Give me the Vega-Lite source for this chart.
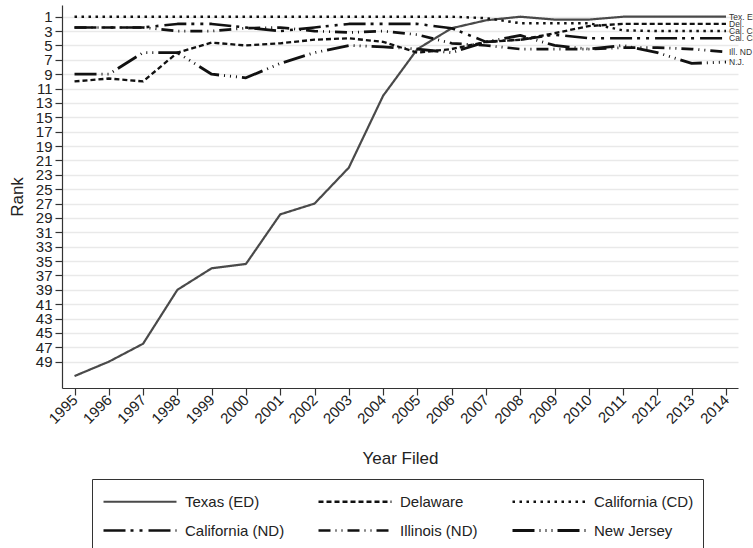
{
  "$schema": "https://vega.github.io/schema/vega-lite/v6.json",
  "width": 676,
  "height": 383,
  "autosize": {"type": "none"},
  "padding": {"left": 62, "top": 5, "right": 15, "bottom": 160},
  "background": "white",
  "config": {"view": {"stroke": null}, "font": "Liberation Sans"},
  "datasets": {
    "ranks": [
      {"series": "Texas (ED)", "year": 1995, "rank": 51},
      {"series": "Texas (ED)", "year": 1996, "rank": 49},
      {"series": "Texas (ED)", "year": 1997, "rank": 46.5},
      {"series": "Texas (ED)", "year": 1998, "rank": 39},
      {"series": "Texas (ED)", "year": 1999, "rank": 36},
      {"series": "Texas (ED)", "year": 2000, "rank": 35.4},
      {"series": "Texas (ED)", "year": 2001, "rank": 28.5},
      {"series": "Texas (ED)", "year": 2002, "rank": 27},
      {"series": "Texas (ED)", "year": 2003, "rank": 22},
      {"series": "Texas (ED)", "year": 2004, "rank": 12},
      {"series": "Texas (ED)", "year": 2005, "rank": 5.5},
      {"series": "Texas (ED)", "year": 2006, "rank": 2.6},
      {"series": "Texas (ED)", "year": 2007, "rank": 1.5},
      {"series": "Texas (ED)", "year": 2008, "rank": 1},
      {"series": "Texas (ED)", "year": 2009, "rank": 1.4},
      {"series": "Texas (ED)", "year": 2010, "rank": 1.4},
      {"series": "Texas (ED)", "year": 2011, "rank": 1},
      {"series": "Texas (ED)", "year": 2012, "rank": 1},
      {"series": "Texas (ED)", "year": 2013, "rank": 1},
      {"series": "Texas (ED)", "year": 2014, "rank": 1},
      {"series": "Delaware", "year": 1995, "rank": 10},
      {"series": "Delaware", "year": 1996, "rank": 9.6},
      {"series": "Delaware", "year": 1997, "rank": 10},
      {"series": "Delaware", "year": 1998, "rank": 6},
      {"series": "Delaware", "year": 1999, "rank": 4.6},
      {"series": "Delaware", "year": 2000, "rank": 5},
      {"series": "Delaware", "year": 2001, "rank": 4.7},
      {"series": "Delaware", "year": 2002, "rank": 4.2},
      {"series": "Delaware", "year": 2003, "rank": 4},
      {"series": "Delaware", "year": 2004, "rank": 4.5},
      {"series": "Delaware", "year": 2005, "rank": 6},
      {"series": "Delaware", "year": 2006, "rank": 5.5},
      {"series": "Delaware", "year": 2007, "rank": 4.5},
      {"series": "Delaware", "year": 2008, "rank": 4.2},
      {"series": "Delaware", "year": 2009, "rank": 3.3},
      {"series": "Delaware", "year": 2010, "rank": 2.3},
      {"series": "Delaware", "year": 2011, "rank": 2},
      {"series": "Delaware", "year": 2012, "rank": 2},
      {"series": "Delaware", "year": 2013, "rank": 2},
      {"series": "Delaware", "year": 2014, "rank": 2},
      {"series": "California (CD)", "year": 1995, "rank": 1},
      {"series": "California (CD)", "year": 1996, "rank": 1},
      {"series": "California (CD)", "year": 1997, "rank": 1},
      {"series": "California (CD)", "year": 1998, "rank": 1},
      {"series": "California (CD)", "year": 1999, "rank": 1},
      {"series": "California (CD)", "year": 2000, "rank": 1},
      {"series": "California (CD)", "year": 2001, "rank": 1},
      {"series": "California (CD)", "year": 2002, "rank": 1},
      {"series": "California (CD)", "year": 2003, "rank": 1},
      {"series": "California (CD)", "year": 2004, "rank": 1},
      {"series": "California (CD)", "year": 2005, "rank": 1},
      {"series": "California (CD)", "year": 2006, "rank": 1},
      {"series": "California (CD)", "year": 2007, "rank": 1.2},
      {"series": "California (CD)", "year": 2008, "rank": 1.9},
      {"series": "California (CD)", "year": 2009, "rank": 1.9},
      {"series": "California (CD)", "year": 2010, "rank": 1.9},
      {"series": "California (CD)", "year": 2011, "rank": 2.9},
      {"series": "California (CD)", "year": 2012, "rank": 3},
      {"series": "California (CD)", "year": 2013, "rank": 3},
      {"series": "California (CD)", "year": 2014, "rank": 3},
      {"series": "California (ND)", "year": 1995, "rank": 2.5},
      {"series": "California (ND)", "year": 1996, "rank": 2.5},
      {"series": "California (ND)", "year": 1997, "rank": 2.5},
      {"series": "California (ND)", "year": 1998, "rank": 2},
      {"series": "California (ND)", "year": 1999, "rank": 2},
      {"series": "California (ND)", "year": 2000, "rank": 2.5},
      {"series": "California (ND)", "year": 2001, "rank": 3},
      {"series": "California (ND)", "year": 2002, "rank": 2.5},
      {"series": "California (ND)", "year": 2003, "rank": 2},
      {"series": "California (ND)", "year": 2004, "rank": 2},
      {"series": "California (ND)", "year": 2005, "rank": 2},
      {"series": "California (ND)", "year": 2006, "rank": 2.6},
      {"series": "California (ND)", "year": 2007, "rank": 4.5},
      {"series": "California (ND)", "year": 2008, "rank": 4.2},
      {"series": "California (ND)", "year": 2009, "rank": 3.5},
      {"series": "California (ND)", "year": 2010, "rank": 4},
      {"series": "California (ND)", "year": 2011, "rank": 4},
      {"series": "California (ND)", "year": 2012, "rank": 4},
      {"series": "California (ND)", "year": 2013, "rank": 4},
      {"series": "California (ND)", "year": 2014, "rank": 4},
      {"series": "Illinois (ND)", "year": 1995, "rank": 2.5},
      {"series": "Illinois (ND)", "year": 1996, "rank": 2.5},
      {"series": "Illinois (ND)", "year": 1997, "rank": 2.5},
      {"series": "Illinois (ND)", "year": 1998, "rank": 3},
      {"series": "Illinois (ND)", "year": 1999, "rank": 3},
      {"series": "Illinois (ND)", "year": 2000, "rank": 2.6},
      {"series": "Illinois (ND)", "year": 2001, "rank": 2.5},
      {"series": "Illinois (ND)", "year": 2002, "rank": 3},
      {"series": "Illinois (ND)", "year": 2003, "rank": 3.2},
      {"series": "Illinois (ND)", "year": 2004, "rank": 3},
      {"series": "Illinois (ND)", "year": 2005, "rank": 3.5},
      {"series": "Illinois (ND)", "year": 2006, "rank": 4.7},
      {"series": "Illinois (ND)", "year": 2007, "rank": 5},
      {"series": "Illinois (ND)", "year": 2008, "rank": 5.5},
      {"series": "Illinois (ND)", "year": 2009, "rank": 5.5},
      {"series": "Illinois (ND)", "year": 2010, "rank": 5.5},
      {"series": "Illinois (ND)", "year": 2011, "rank": 5.3},
      {"series": "Illinois (ND)", "year": 2012, "rank": 5.3},
      {"series": "Illinois (ND)", "year": 2013, "rank": 5.5},
      {"series": "Illinois (ND)", "year": 2014, "rank": 5.9},
      {"series": "New Jersey", "year": 1995, "rank": 9},
      {"series": "New Jersey", "year": 1996, "rank": 9},
      {"series": "New Jersey", "year": 1997, "rank": 6},
      {"series": "New Jersey", "year": 1998, "rank": 6},
      {"series": "New Jersey", "year": 1999, "rank": 9},
      {"series": "New Jersey", "year": 2000, "rank": 9.5},
      {"series": "New Jersey", "year": 2001, "rank": 7.5},
      {"series": "New Jersey", "year": 2002, "rank": 6},
      {"series": "New Jersey", "year": 2003, "rank": 5},
      {"series": "New Jersey", "year": 2004, "rank": 5.2},
      {"series": "New Jersey", "year": 2005, "rank": 5.5},
      {"series": "New Jersey", "year": 2006, "rank": 6},
      {"series": "New Jersey", "year": 2007, "rank": 4.5},
      {"series": "New Jersey", "year": 2008, "rank": 3.6},
      {"series": "New Jersey", "year": 2009, "rank": 5},
      {"series": "New Jersey", "year": 2010, "rank": 5.5},
      {"series": "New Jersey", "year": 2011, "rank": 5},
      {"series": "New Jersey", "year": 2012, "rank": 6},
      {"series": "New Jersey", "year": 2013, "rank": 7.5},
      {"series": "New Jersey", "year": 2014, "rank": 7.3}
    ],
    "labels": [
      {"series": "Texas (ED)", "label": "Tex. ED"},
      {"series": "Delaware", "label": "Del."},
      {"series": "California (CD)", "label": "Cal. CD"},
      {"series": "California (ND)", "label": "Cal. CD"},
      {"series": "Illinois (ND)", "label": "Ill. ND"},
      {"series": "New Jersey", "label": "N.J."}
    ]
  },
  "layer": [
    {
      "data": {"name": "ranks"},
      "mark": {"type": "line", "strokeCap": "butt", "strokeJoin": "round"},
      "encoding": {
        "x": {
          "field": "year", "type": "quantitative",
          "scale": {"domain": [1994.635, 2014.35], "nice": false, "zero": false},
          "axis": {
            "values": [1995,1996,1997,1998,1999,2000,2001,2002,2003,2004,2005,2006,2007,2008,2009,2010,2011,2012,2013,2014],
            "tickCount": 100,
            "format": "d", "labelAngle": -45, "labelAlign": "right", "labelBaseline": "middle",
            "labelFontSize": 15, "labelColor": "#222", "labelPadding": 2, "labelFlush": false, "labelOverlap": false,
            "tickSize": 7, "tickColor": "#333", "tickWidth": 1.2, "domainColor": "#333", "domainWidth": 1.2,
            "grid": false, "title": "Year Filed", "titleFontSize": 17, "titleFontWeight": "normal",
            "titleColor": "#222", "titlePadding": 24
          }
        },
        "y": {
          "field": "rank", "type": "quantitative",
          "scale": {"domain": [-0.63, 52.66], "reverse": true, "nice": false, "zero": false},
          "axis": {
            "values": [1,3,5,7,9,11,13,15,17,19,21,23,25,27,29,31,33,35,37,39,41,43,45,47,49],
            "tickCount": 100, "format": "d",
            "labelFontSize": 15, "labelColor": "#222", "labelPadding": 3, "labelFlush": false, "labelOverlap": false,
            "tickSize": 7, "tickColor": "#333", "tickWidth": 1.2, "domainColor": "#333", "domainWidth": 1.2,
            "grid": true, "gridColor": "#e9e9e9", "gridWidth": 1.5,
            "title": "Rank", "titleFontSize": 17, "titleFontWeight": "normal", "titleColor": "#222", "titlePadding": 9
          }
        },
        "detail": {"field": "series"},
        "color": {
          "field": "series", "type": "nominal",
          "scale": {
            "domain": ["Texas (ED)", "Delaware", "California (CD)", "California (ND)", "Illinois (ND)", "New Jersey"],
            "range": ["#4a4a4a", "#111111", "#111111", "#111111", "#111111", "#111111"]
          },
          "legend": {
            "orient": "none", "legendX": 30, "legendY": 474, "direction": "horizontal", "columns": 3,
            "title": " ", "titleFontSize": 2, "titlePadding": 4,
            "symbolType": "M-1,0H13.6", "symbolSize": 100, "labelFontSize": 15, "labelColor": "#222",
            "labelOffset": 69, "columnPadding": 28, "rowPadding": 13, "padding": 9,
            "strokeColor": "#333", "fillColor": "white", "gridAlign": "each"
          }
        },
        "strokeDash": {
          "field": "series", "type": "nominal",
          "scale": {
            "domain": ["Texas (ED)", "Delaware", "California (CD)", "California (ND)", "Illinois (ND)", "New Jersey"],
            "range": [[1, 0], [5, 3], [2.5, 4.5], [22, 5, 3, 6, 3, 6], [12, 5, 1, 5, 1, 5], [22, 5, 1, 5, 1, 5, 1, 5]]
          }
        },
        "strokeWidth": {
          "field": "series", "type": "nominal",
          "scale": {
            "domain": ["Texas (ED)", "Delaware", "California (CD)", "California (ND)", "Illinois (ND)", "New Jersey"],
            "range": [2.2, 2.8, 2.8, 2.8, 2.8, 2.8]
          }
        }
      }
    },
    {
      "data": {"name": "ranks"},
      "transform": [
        {"filter": "datum.year == 2014"},
        {"lookup": "series", "from": {"data": {"name": "labels"}, "key": "series", "fields": ["label"]}}
      ],
      "mark": {"type": "text", "align": "left", "baseline": "middle", "dx": 3, "fontSize": 8.5, "color": "#333"},
      "encoding": {
        "x": {"field": "year", "type": "quantitative"},
        "y": {"field": "rank", "type": "quantitative"},
        "text": {"field": "label"}
      }
    }
  ]
}
